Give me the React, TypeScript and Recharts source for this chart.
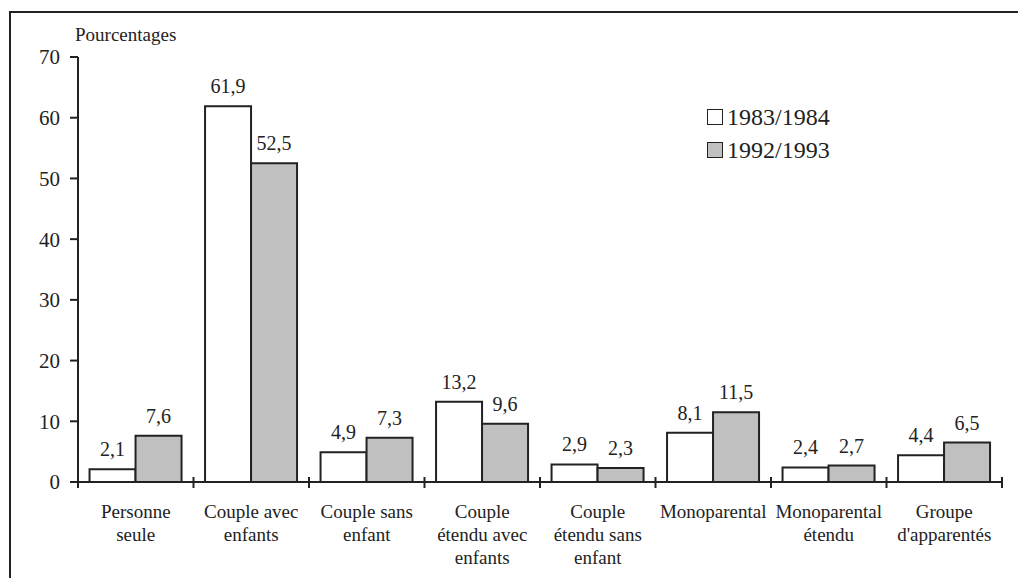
import { Bar, BarChart, XAxis, YAxis, Legend, LabelList } from "recharts"

// household types, one label line per entry
const categories = [
    ["Personne", "seule"],
    ["Couple avec", "enfants"],
    ["Couple sans", "enfant"],
    ["Couple", "étendu avec", "enfants"],
    ["Couple", "étendu sans", "enfant"],
    ["Monoparental"],
    ["Monoparental", "étendu"],
    ["Groupe", "d'apparentés"],
]
const series1983 = [2.1, 61.9, 4.9, 13.2, 2.9, 8.1, 2.4, 4.4]
const series1992 = [7.6, 52.5, 7.3, 9.6, 2.3, 11.5, 2.7, 6.5]
const yTicks = [0, 10, 20, 30, 40, 50, 60, 70]

const data = categories.map((lines, i) => ({
    cat: lines.join(" "),
    lines,
    a: series1983[i],
    b: series1992[i],
}))

const W = 1018
const H = 578
const M = { top: 57, right: 16, left: 0, bottom: 0 }
const Y_AXIS_W = 78
const X_AXIS_H = 96
const BAND = (W - M.right - Y_AXIS_W) / categories.length

const INK = "#222"
const FONT = "Liberation Serif"

const fmt = (v: any) => Number(v).toFixed(1).replace(".", ",")

const CategoryTick = ({ x, y, payload, index }: any) => {
    const i = payload.index ?? index
    const lines: string[] = data[i]?.lines ?? [String(payload.value)]
    const left = x - BAND / 2
    const right = x + BAND / 2
    return (
        <g>
            <line x1={left} x2={left} y1={y - 5} y2={y + 6} stroke={INK} strokeWidth={2} />
            {i === categories.length - 1 && (
                <line x1={right} x2={right} y1={y - 5} y2={y + 6} stroke={INK} strokeWidth={2} />
            )}
            <text x={x} y={y + 30} textAnchor="middle" fill={INK} style={{ fontFamily: FONT, fontSize: 19 }}>
                {lines.map((l, k) => (
                    <tspan key={k} x={x} dy={k === 0 ? 6 : 23}>
                        {l}
                    </tspan>
                ))}
            </text>
        </g>
    )
}

const LegendBox = ({ payload }: any) => (
    <div style={{ fontFamily: FONT, color: INK }}>
        {(payload || []).map((p: any) => (
            <div key={p.value} style={{ display: "flex", alignItems: "center", height: 33 }}>
                <span
                    style={{
                        width: 14,
                        height: 14,
                        border: `1.5px solid ${INK}`,
                        background: p.payload?.fill ?? p.color,
                        marginRight: 4,
                    }}
                />
                <span style={{ fontSize: 24, lineHeight: "24px" }}>{p.value}</span>
            </div>
        ))}
    </div>
)

export default function App() {
    return (
        <div
            style={{
                position: "absolute",
                left: 0,
                top: 0,
                width: W,
                height: H,
                overflow: "hidden",
                background: "#fff",
                fontFamily: FONT,
            }}
        >
            <div
                style={{
                    position: "absolute",
                    left: 9,
                    top: 11,
                    width: 1200,
                    height: 800,
                    borderTop: `2px solid ${INK}`,
                    borderLeft: `2px solid ${INK}`,
                }}
            />
            <div style={{ position: "absolute", left: 75, top: 24, fontSize: 19, color: INK }}>
                Pourcentages
            </div>
            <div style={{ position: "absolute", left: 0, top: 0 }}>
                <BarChart
                    width={W}
                    height={H}
                    data={data}
                    margin={M}
                    barGap={0}
                    barCategoryGap="10%"
                    style={{ fontFamily: FONT }}
                >
                    <XAxis
                        dataKey="cat"
                        height={X_AXIS_H}
                        interval={0}
                        tickLine={false}
                        tickSize={0}
                        tickMargin={0}
                        axisLine={{ stroke: INK, strokeWidth: 2 }}
                        tick={<CategoryTick />}
                    />
                    <XAxis
                        xAxisId="frame"
                        dataKey="cat"
                        orientation="top"
                        height={0}
                        tick={false}
                        tickLine={false}
                        axisLine={{ stroke: INK, strokeWidth: 2 }}
                    />
                    <YAxis
                        width={Y_AXIS_W}
                        domain={[0, 70]}
                        ticks={yTicks}
                        interval={0}
                        tickSize={8}
                        tickMargin={10}
                        tick={{ fontSize: 21, fill: INK, style: { fontFamily: FONT } }}
                        tickLine={{ stroke: INK, strokeWidth: 2 }}
                        axisLine={{ stroke: INK, strokeWidth: 2 }}
                    />
                    <YAxis
                        yAxisId="frame"
                        orientation="right"
                        width={0}
                        domain={[0, 70]}
                        tick={false}
                        tickLine={false}
                        axisLine={{ stroke: INK, strokeWidth: 2 }}
                    />
                    <Legend
                        layout="vertical"
                        align="center"
                        verticalAlign="middle"
                        wrapperStyle={{ left: 707, top: 100, width: "auto" }}
                        content={<LegendBox />}
                    />
                    <Bar dataKey="a" name="1983/1984" fill="#ffffff" stroke={INK} strokeWidth={2} isAnimationActive={false}>
                        <LabelList dataKey="a" position="top" offset={13} formatter={fmt} fontSize={20} fill={INK} style={{ fontFamily: FONT }} />
                    </Bar>
                    <Bar dataKey="b" name="1992/1993" fill="#c0c0c0" stroke={INK} strokeWidth={2} isAnimationActive={false}>
                        <LabelList dataKey="b" position="top" offset={13} formatter={fmt} fontSize={20} fill={INK} style={{ fontFamily: FONT }} />
                    </Bar>
                </BarChart>
            </div>
        </div>
    )
}
